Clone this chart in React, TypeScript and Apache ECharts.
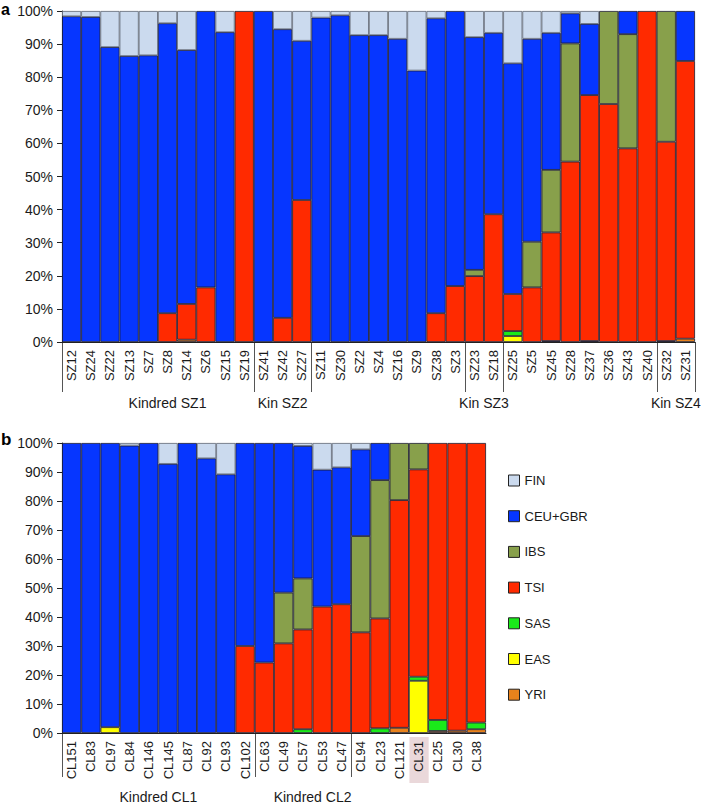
import React, { useEffect, useRef } from "react";
import * as echarts from "echarts";

// ---- Panel a data ----
const labelsA = ["SZ12","SZ24","SZ22","SZ13","SZ7","SZ8","SZ14","SZ6","SZ15","SZ19","SZ41","SZ42","SZ27","SZ11","SZ30","SZ2","SZ4","SZ16","SZ9","SZ38","SZ3","SZ23","SZ18","SZ25","SZ5","SZ45","SZ28","SZ37","SZ36","SZ43","SZ40","SZ32","SZ31"];
const yriA = [0,0,0,0,0,0,0.7,0,0,0,0,0,0,0,0,0,0,0,0,0,0,0,0,0,0,0.3,0,0.3,0,0,0,0.3,1.0];
const easA = [0,0,0,0,0,0,0,0,0,0,0,0,0,0,0,0,0,0,0,0,0,0,0,1.8,0,0,0,0,0,0,0,0,0];
const sasA = [0,0,0,0,0,0,0,0,0,0,0,0,0,0,0,0,0,0,0,0,0,0,0,1.5,0,0,0,0,0,0,0,0,0];
const tsiA = [0,0,0,0,0,8.7,10.8,16.5,0,100,0,7.3,42.9,0,0,0,0,0,0,8.7,16.9,19.9,38.6,11.2,16.5,32.8,54.5,74.3,71.9,58.5,100,60.2,83.9];
const ibsA = [0,0,0,0,0,0,0,0,0,0,0,0,0,0,0,0,0,0,0,0,0,1.9,0,0,13.8,18.9,35.7,0,28.1,34.5,0,39.5,0];
const ceuA = [98.4,98.2,89.1,86.4,86.6,87.6,76.7,83.5,93.6,0,100,87.2,48.1,98.0,98.7,92.7,92.7,91.6,82.0,89.1,83.1,70.3,54.8,69.7,61.3,41.4,9.1,21.5,0,7.0,0,0,15.1];
const finA = [1.6,1.8,10.9,13.6,13.4,3.7,11.8,0,6.4,0,0,5.5,9.0,2.0,1.3,7.3,7.3,8.4,18.0,2.2,0,7.9,6.6,15.8,8.4,6.6,0.7,3.9,0,0,0,0,0];

// ---- Panel b data ----
const labelsB = ["CL151","CL83","CL97","CL84","CL146","CL145","CL87","CL92","CL93","CL102","CL63","CL49","CL57","CL53","CL47","CL94","CL23","CL121","CL31","CL25","CL30","CL38"];
const yriB = [0,0,0,0,0,0,0,0,0,0,0,0,0,0,0,0,0,1.8,0,0.7,0.8,1.3];
const easB = [0,0,2.0,0,0,0,0,0,0,0,0,0,0,0,0,0,0,0,18.0,0,0,0];
const sasB = [0,0,0,0,0,0,0,0,0,0,0,0,1.3,0,0,0,1.6,0,1.4,3.8,0,2.3];
const tsiB = [0,0,0,0,0,0,0,0,0,30.0,24.3,30.9,34.4,43.6,44.4,34.7,37.9,78.5,71.5,95.5,99.2,96.4];
const ibsB = [0,0,0,0,0,0,0,0,0,0,0,17.5,17.6,0,0,33.2,47.7,19.7,9.1,0,0,0];
const ceuB = [100,100,98.0,99.1,100,92.8,100,94.7,89.2,70.0,75.7,51.6,45.7,47.2,47.2,29.9,12.8,0,0,0,0,0];
const finB = [0,0,0,0.9,0,7.2,0,5.3,10.8,0,0,0,1.0,9.2,8.4,2.2,0,0,0,0,0,0];

const yTicks = [0,10,20,30,40,50,60,70,80,90,100];

const groupsA = [{ text: "Kindred SZ1", pos: 5.5 }, { text: "Kin SZ2", pos: 11.5 }, { text: "Kin SZ3", pos: 22 }, { text: "Kin SZ4", pos: 32 }];
const sepsA = [0, 10, 13, 21, 23, 31, 33];
const groupsB = [{ text: "Kindred CL1", pos: 5 }, { text: "Kindred CL2", pos: 13 }];
const sepsB = [0, 10, 15];
const highlightB = "CL31";

const legendNames = ["FIN", "CEU+GBR", "IBS", "TSI", "SAS", "EAS", "YRI"];
const colors: Record<string, string> = {
  FIN: "#cbdaee",
  "CEU+GBR": "#0636ff",
  IBS: "#88a04b",
  TSI: "#ff2a00",
  SAS: "#1aea1a",
  EAS: "#ffff00",
  YRI: "#e8821c",
};

const FONT = "Liberation Sans";

export default function App() {
  const ref = useRef<HTMLDivElement>(null);
  useEffect(() => {
    if (!ref.current) return;
    const chart = echarts.init(ref.current, undefined, { renderer: "svg" });
    const stackOrder: [string, number[], number[]][] = [
      ["YRI", yriA, yriB],
      ["EAS", easA, easB],
      ["SAS", sasA, sasB],
      ["TSI", tsiA, tsiB],
      ["IBS", ibsA, ibsB],
      ["CEU+GBR", ceuA, ceuB],
      ["FIN", finA, finB],
    ];
    const series: any[] = [];
    stackOrder.forEach(([name, a, b]) => {
      [a, b].forEach((arr, gi) => {
        series.push({
          type: "bar",
          name,
          xAxisIndex: gi,
          yAxisIndex: gi,
          stack: gi === 0 ? "a" : "b",
          barCategoryGap: "0%",
          data: arr.map((v) => (v === 0 ? "-" : v)),
          itemStyle: {
            color: colors[name],
            borderColor: name === "FIN" ? "#5d6472" : "#1a1a2e",
            borderWidth: 0.8,
          },
          emphasis: { disabled: true },
        });
      });
    });
    const yAxisCommon = {
      type: "value",
      min: 0,
      max: 100,
      interval: 10,
      axisLine: { show: true, lineStyle: { color: "#222", width: 1 } },
      axisTick: { show: true, length: 5, lineStyle: { color: "#222" } },
      splitLine: { show: false },
      axisLabel: { formatter: "{value}%", fontSize: 14, color: "#1a1a1a", fontFamily: FONT, margin: 9 },
    };
    const xAxisCommon = {
      type: "category",
      axisLine: { show: true, lineStyle: { color: "#222", width: 1 } },
      axisTick: { show: false },
      axisLabel: { rotate: 90, fontSize: 13, color: "#1a1a1a", fontFamily: FONT, margin: 8, interval: 0 },
    };
    chart.setOption({
      animation: false,
      backgroundColor: "#ffffff",
      grid: [
        { left: 62, top: 11, width: 633, height: 331 },
        { left: 62, top: 443, width: 424, height: 290 },
      ],
      xAxis: [
        { ...xAxisCommon, gridIndex: 0, data: labelsA },
        { ...xAxisCommon, gridIndex: 1, data: labelsB },
      ],
      yAxis: [
        { ...yAxisCommon, gridIndex: 0 },
        { ...yAxisCommon, gridIndex: 1 },
      ],
      legend: {
        data: legendNames,
        orient: "vertical",
        left: 503,
        top: 469,
        itemWidth: 11,
        itemHeight: 11,
        itemGap: 22.7,
        icon: "rect",
        selectedMode: false,
        itemStyle: { borderColor: "#222", borderWidth: 1 },
        textStyle: { fontSize: 13, color: "#1a1a1a", fontFamily: FONT },
      },
      series,
    });

    // compute annotation positions from the axes
    const graphics: any[] = [];
    const panel = (
      gi: number,
      labels: string[],
      seps: number[],
      groups: { text: string; pos: number }[],
      sepLen: number,
      groupY: number
    ) => {
      const c0 = chart.convertToPixel({ xAxisIndex: gi }, labels[0]) as number;
      const c1 = chart.convertToPixel({ xAxisIndex: gi }, labels[1]) as number;
      const bw = c1 - c0;
      const x0 = c0 - bw / 2;
      const y0 = chart.convertToPixel({ yAxisIndex: gi }, yTicks[0]) as number;
      seps.forEach((k) => {
        const x = Math.round(x0 + k * bw) + 0.5;
        graphics.push({
          type: "line",
          shape: { x1: x, y1: y0, x2: x, y2: y0 + sepLen },
          style: { stroke: "#555", lineWidth: 1 },
        });
      });
      groups.forEach((g) => {
        graphics.push({
          type: "text",
          x: x0 + g.pos * bw,
          y: groupY,
          style: {
            text: g.text,
            font: `14px "${FONT}"`,
            fill: "#1a1a1a",
            textAlign: "center",
            textVerticalAlign: "middle",
          },
        });
      });
      return { x0, bw, y0 };
    };
    panel(0, labelsA, sepsA, groupsA, 50, 403);
    const pb = panel(1, labelsB, sepsB, groupsB, 44, 797);
    const hi = labelsB.indexOf(highlightB);
    graphics.unshift({
      type: "rect",
      z: -10,
      shape: { x: pb.x0 + hi * pb.bw + 0.5, y: pb.y0 + 4, width: pb.bw, height: 46 },
      style: { fill: "#ead8da" },
    });
    graphics.push({
      type: "text",
      x: 1,
      y: 9,
      style: { text: "a", font: `bold 16px "${FONT}"`, fill: "#000", textVerticalAlign: "middle" },
    });
    graphics.push({
      type: "text",
      x: 1,
      y: 448,
      style: { text: "b", font: `bold 17px "${FONT}"`, fill: "#000", textVerticalAlign: "bottom" },
    });
    chart.setOption({ graphic: graphics });

    return () => chart.dispose();
  }, []);
  return (
    <div
      ref={ref}
      style={{ position: "fixed", left: 0, top: 0, width: 701, height: 804, background: "#fff" }}
    />
  );
}
